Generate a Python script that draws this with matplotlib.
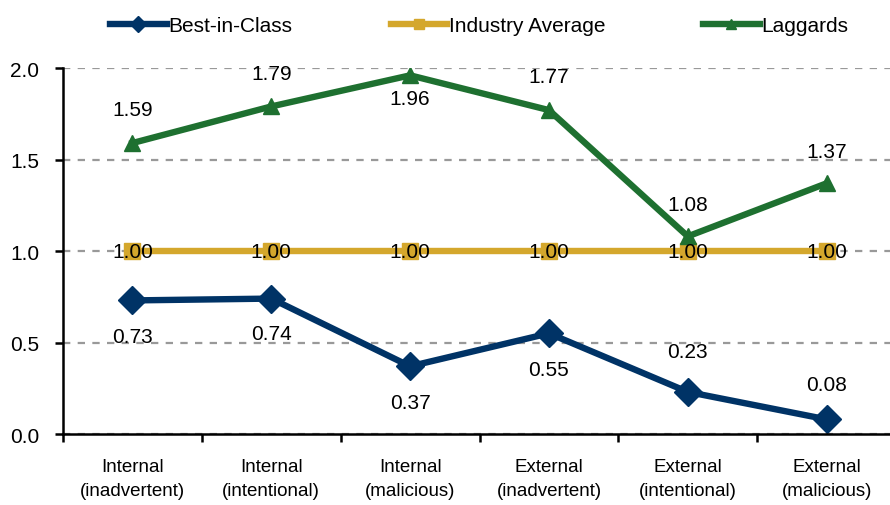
import matplotlib.pyplot as plt
import numpy as np

plt.rcParams['font.family'] = ['Liberation Sans', 'DejaVu Sans']

categories = ["Internal\n(inadvertent)", "Internal\n(intentional)", "Internal\n(malicious)",
              "External\n(inadvertent)", "External\n(intentional)", "External\n(malicious)"]
best = [0.73, 0.74, 0.37, 0.55, 0.23, 0.08]
industry = [1.00, 1.00, 1.00, 1.00, 1.00, 1.00]
laggards = [1.59, 1.79, 1.96, 1.77, 1.08, 1.37]

# label offsets in points: +above, -below
best_off = [-26, -25, -26, -26, 29, 25]
lag_off = [24, 24, -17, 24, 23, 23]

navy = "#003366"
gold = "#D4A72C"
green = "#1E7030"

fig = plt.figure(figsize=(8.9, 5.06), dpi=100)
ax = fig.add_axes([0.0708, 0.1403, 0.936, 0.7233])
x = np.arange(len(categories))

ax.plot(x, best, color=navy, lw=4.6, marker="D", ms=14, label="Best-in-Class")
ax.plot(x, industry, color=gold, lw=4.6, marker="s", ms=11.5, label="Industry Average")
ax.plot(x, laggards, color=green, lw=4.6, marker="^", ms=11, label="Laggards")

for i in range(len(x)):
    ax.annotate("%.2f" % best[i], (x[i], best[i]), xytext=(0, best_off[i]), textcoords="offset points",
                ha="center", va="center", fontsize=15)
    ax.annotate("%.2f" % industry[i], (x[i], industry[i]), xytext=(0, 0), textcoords="offset points",
                ha="center", va="center", fontsize=15)
    ax.annotate("%.2f" % laggards[i], (x[i], laggards[i]), xytext=(0, lag_off[i]), textcoords="offset points",
                ha="center", va="center", fontsize=15)

ax.set_xlim(-0.5, 5.5)
ax.set_ylim(0, 2.0)
ax.set_yticks([0, 0.5, 1.0, 1.5, 2.0])
ax.set_yticklabels(["0.0", "0.5", "1.0", "1.5", "2.0"], fontsize=15)
ax.set_xticks(x)
ax.set_xticklabels(categories, fontsize=13.5, linespacing=1.6)
ax.set_xticks(np.arange(-0.5, 6, 1), minor=True)
ax.tick_params(axis="x", which="major", length=0, pad=17)
ax.tick_params(axis="x", which="minor", length=6, width=1.8, direction="out")
ax.tick_params(axis="y", length=6, width=1.8, direction="out", pad=11)
ax.yaxis.grid(True, color="#999999", ls=(0, (3.3, 3.3)), lw=1.6)
ax.set_axisbelow(True)
for s in ["top", "right"]:
    ax.spines[s].set_visible(False)
ax.spines["left"].set_linewidth(1.8)
ax.spines["bottom"].set_linewidth(1.8)

ax.legend(loc="center", bbox_to_anchor=(0.5, 1.115), ncol=3, frameon=False, fontsize=15,
          columnspacing=4.7, handlelength=2.7, handletextpad=0.1, markerscale=0.6)

fig.savefig("out.png", dpi=100)
